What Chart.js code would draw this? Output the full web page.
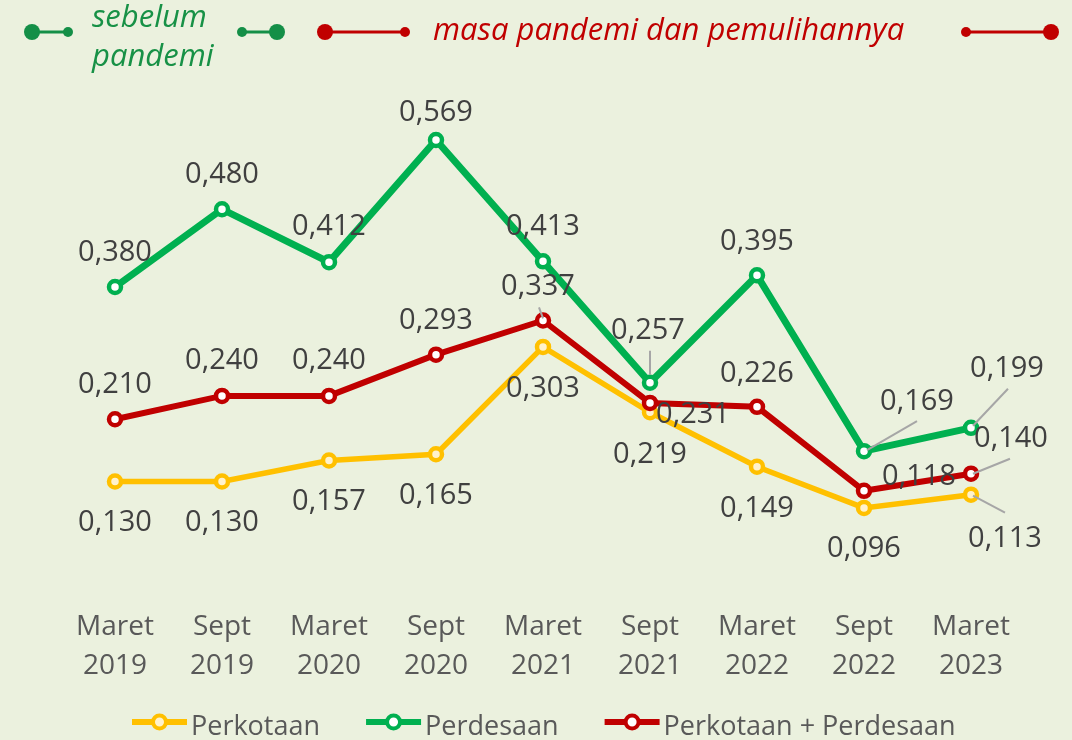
<!DOCTYPE html>
<html>
<head>
<meta charset="utf-8">
<script src="https://cdn.jsdelivr.net/npm/chart.js@4.4.1/dist/chart.umd.min.js"></script>
<style>
  html, body { margin: 0; padding: 0; background: #EBF1DE; }
  #wrap { width: 1072px; height: 740px; position: relative; }
</style>
</head>
<body>
<div id="wrap"><canvas id="chart" width="1072" height="740"></canvas></div>
<script>
// --- data ---
const periods = [['Maret', '2019'], ['Sept', '2019'], ['Maret', '2020'], ['Sept', '2020'], ['Maret', '2021'],
                 ['Sept', '2021'], ['Maret', '2022'], ['Sept', '2022'], ['Maret', '2023']];
const perkotaan = [0.130, 0.130, 0.157, 0.165, 0.303, 0.219, 0.149, 0.096, 0.113];
const perdesaan = [0.380, 0.480, 0.412, 0.569, 0.413, 0.257, 0.395, 0.169, 0.199];
const gabungan  = [0.210, 0.240, 0.240, 0.293, 0.337, 0.231, 0.226, 0.118, 0.140];
const seriesNames = ['Perkotaan', 'Perdesaan', 'Perkotaan + Perdesaan'];
const noteBefore = ['sebelum', 'pandemi'];
const noteAfter = 'masa pandemi dan pemulihannya';
const yMin = 0, yMax = 0.65;

// --- label placement (offset of label centre from its point, px) ---
const offsKota = [[0,40],[0,40],[0,40],[0,40],[0,40],[0,41],[0,40],[0,39],[34,42]];
const offsDesa = [[0,-36],[0,-36],[0,-37],[0,-29],[0,-36],[-2,-54],[0,-35],[53,-51],[36,-61]];
const offsGab  = [[0,-36],[0,-37],[0,-37],[0,-36],[-5,-35],[43,10],[0,-35],[55,-16],[40,-37]];
// leader lines: [x1,y1,x2,y2] relative to the point
const leadKota = {8: [34,18,2,1]};
const leadDesa = {5: [0,-32,0,-8], 7: [53,-30,3,-1], 8: [37,-39,2,-2]};
const leadGab  = {4: [-4,-13,0,-2], 8: [39,-15,2,0]};

const YELLOW = '#FFC000', GREEN = '#00B050', RED = '#C00000';
const FONT = '"Open Sans", "Noto Sans", sans-serif';

const fmt = v => v.toFixed(3).replace('.', ',');

const labelPlugin = {
    id: 'valueLabels',
    afterDatasetsDraw(chart) {
        const ctx = chart.ctx;
        const cfg = [[offsKota, leadKota], [offsDesa, leadDesa], [offsGab, leadGab]];
        ctx.save();
        chart.data.datasets.forEach((ds, di) => {
            const meta = chart.getDatasetMeta(di);
            const [offs, leads] = cfg[di];
            meta.data.forEach((pt, i) => {
                const l = leads[i];
                if (l) {
                    ctx.strokeStyle = '#A6A6A6';
                    ctx.lineWidth = 2;
                    ctx.beginPath();
                    ctx.moveTo(pt.x + l[0], pt.y + l[1]);
                    ctx.lineTo(pt.x + l[2], pt.y + l[3]);
                    ctx.stroke();
                }
                ctx.font = '29px ' + FONT;
                ctx.fillStyle = '#404040';
                ctx.textAlign = 'center';
                ctx.textBaseline = 'alphabetic';
                ctx.fillText(fmt(ds.data[i]), pt.x + offs[i][0], pt.y + offs[i][1] + 10);
            });
        });
        ctx.restore();
    }
};

function dotLine(ctx, color, xBig, xSmall, y) {
    ctx.strokeStyle = color;
    ctx.fillStyle = color;
    ctx.lineWidth = 3;
    ctx.beginPath();
    ctx.moveTo(xBig, y);
    ctx.lineTo(xSmall, y);
    ctx.stroke();
    ctx.beginPath(); ctx.arc(xBig, y, 8, 0, Math.PI * 2); ctx.fill();
    ctx.beginPath(); ctx.arc(xSmall, y, 5, 0, Math.PI * 2); ctx.fill();
}

const decorPlugin = {
    id: 'decor',
    afterDraw(chart) {
        const ctx = chart.ctx;
        ctx.save();
        // top notes
        dotLine(ctx, '#148F47', 32, 68, 32);
        dotLine(ctx, '#148F47', 277, 242, 32);
        dotLine(ctx, RED, 325, 405, 32);
        dotLine(ctx, RED, 1051, 966, 32);
        ctx.textAlign = 'left';
        ctx.textBaseline = 'alphabetic';
        ctx.font = 'italic 31px ' + FONT;
        ctx.fillStyle = '#179146';
        ctx.fillText(noteBefore[0], 92, 27);
        ctx.fillText(noteBefore[1], 92, 66);
        ctx.font = 'italic 31px ' + FONT;
        ctx.fillStyle = RED;
        ctx.fillText(noteAfter, 433, 40);

        // bottom legend
        let x = 132;
        const y = 722;
        chart.data.datasets.forEach(ds => {
            ctx.strokeStyle = ds.borderColor;
            ctx.lineWidth = 6;
            ctx.beginPath(); ctx.moveTo(x, y); ctx.lineTo(x + 55, y); ctx.stroke();
            ctx.fillStyle = ds.pointBackgroundColor;
            ctx.lineWidth = 4;
            ctx.beginPath(); ctx.arc(x + 27.5, y, 6.5, 0, Math.PI * 2); ctx.fill(); ctx.stroke();
            ctx.font = '27px ' + FONT;
            ctx.fillStyle = '#595959';
            ctx.fillText(ds.label, x + 59, 735);
            x += 59 + ctx.measureText(ds.label).width + 46;
        });
        ctx.restore();
    }
};

function series(label, data, color, fill, width, order) {
    return {
        label, data, order,
        borderColor: color,
        backgroundColor: color,
        borderWidth: width,
        tension: 0,
        pointRadius: 6,
        pointBorderWidth: 4.5,
        pointBorderColor: color,
        pointBackgroundColor: fill,
        pointHoverRadius: 6
    };
}

new Chart(document.getElementById('chart'), {
    type: 'line',
    data: {
        labels: periods,
        datasets: [
            series(seriesNames[0], perkotaan, YELLOW, '#FFF2CC', 5.5, 2),
            series(seriesNames[1], perdesaan, GREEN, '#FFFFFF', 7, 1),
            series(seriesNames[2], gabungan, RED, '#FFFFFF', 6, 0)
        ]
    },
    options: {
        responsive: false,
        animation: false,
        devicePixelRatio: 1,
        layout: { padding: { top: 77, left: 61.5, right: 47.5, bottom: 0 } },
        plugins: { legend: { display: false }, tooltip: { enabled: false } },
        scales: {
            y: { display: false, min: yMin, max: yMax },
            x: {
                offset: true,
                grid: { display: false, drawTicks: false },
                border: { display: false },
                ticks: {
                    color: '#595959',
                    padding: 25,
                    maxRotation: 0,
                    autoSkip: false,
                    font: { family: FONT, size: 28, lineHeight: 1.39 }
                },
                afterFit: scale => { scale.height = 157.4; }
            }
        }
    },
    plugins: [labelPlugin, decorPlugin]
});
</script>
</body>
</html>
